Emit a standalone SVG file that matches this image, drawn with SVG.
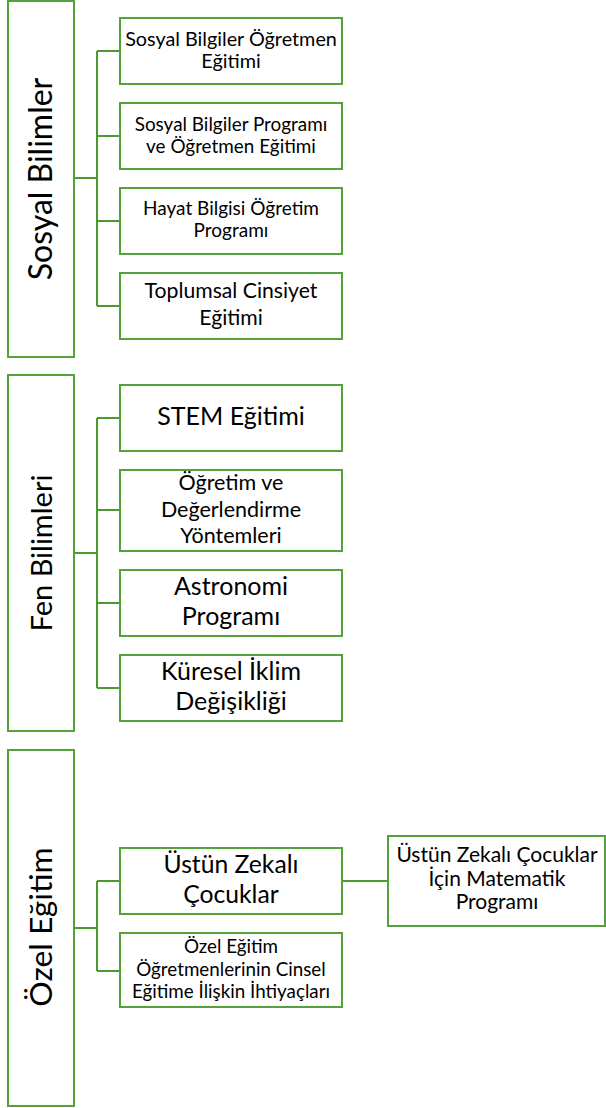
<svg xmlns="http://www.w3.org/2000/svg" width="606" height="1108" viewBox="0 0 606 1108">
<style>
.box{fill:#ffffff;stroke:#56a23a;stroke-width:2}
.conn{fill:none;stroke:#4a9a2e;stroke-width:2}
text{font-family:Lato,"Open Sans","Liberation Sans",sans-serif;fill:#000000;text-anchor:middle}
</style>
<rect width="606" height="1108" fill="#ffffff"/>
<g id="connectors">
<path class="conn" d="M75 178H97M97 51V306M97 51H119M97 136H119M97 221H119M97 306H119"/>
<path class="conn" d="M75 553H97M97 418V688M97 418H119M97 510H119M97 603H119M97 688H119"/>
<path class="conn" d="M75 928H97M97 881V971M97 881H119M97 971H119M343 881H387"/>
</g>
<g id="sosyal-bilimler">
<rect class="box" x="8" y="1" width="66" height="356"/>
<text transform="translate(52,179) rotate(-90)" font-size="32">Sosyal Bilimler</text>
</g>
<g id="sb-ogretmen">
<rect class="box" x="120" y="18" width="222" height="66"/>
<text x="231" y="46" font-size="19.8">Sosyal Bilgiler Öğretmen</text>
<text x="231" y="68" font-size="19.8">Eğitimi</text>
</g>
<g id="sb-program">
<rect class="box" x="120" y="103" width="222" height="66"/>
<text x="231" y="131" font-size="18.9">Sosyal Bilgiler Programı</text>
<text x="231" y="153" font-size="18.9">ve Öğretmen Eğitimi</text>
</g>
<g id="hayat-bilgisi">
<rect class="box" x="120" y="188" width="222" height="66"/>
<text x="231" y="215" font-size="19">Hayat Bilgisi Öğretim</text>
<text x="231" y="237" font-size="19">Programı</text>
</g>
<g id="toplumsal-cinsiyet">
<rect class="box" x="120" y="273" width="222" height="66"/>
<text x="231" y="298" font-size="21.2">Toplumsal Cinsiyet</text>
<text x="231" y="325" font-size="21.2">Eğitimi</text>
</g>
<g id="fen-bilimleri">
<rect class="box" x="8" y="375" width="66" height="356"/>
<text transform="translate(52,553) rotate(-90)" font-size="29">Fen Bilimleri</text>
</g>
<g id="stem">
<rect class="box" x="120" y="385" width="222" height="66"/>
<text x="231" y="425" font-size="25">STEM Eğitimi</text>
</g>
<g id="ogretim-degerlendirme">
<rect class="box" x="120" y="470" width="222" height="81"/>
<text x="231" y="490" font-size="21.5">Öğretim ve</text>
<text x="231" y="517" font-size="21.5">Değerlendirme</text>
<text x="231" y="543" font-size="21.5">Yöntemleri</text>
</g>
<g id="astronomi">
<rect class="box" x="120" y="570" width="222" height="66"/>
<text x="231" y="595" font-size="25">Astronomi</text>
<text x="231" y="625" font-size="25">Programı</text>
</g>
<g id="iklim">
<rect class="box" x="120" y="655" width="222" height="66"/>
<text x="231" y="680" font-size="25">Küresel İklim</text>
<text x="231" y="710" font-size="25">Değişikliği</text>
</g>
<g id="ozel-egitim">
<rect class="box" x="8" y="750" width="66" height="356"/>
<text transform="translate(52,927) rotate(-90)" font-size="31.8">Özel Eğitim</text>
</g>
<g id="ustun-zekali">
<rect class="box" x="120" y="848" width="222" height="66"/>
<text x="231" y="873" font-size="24.7">Üstün Zekalı</text>
<text x="231" y="903" font-size="24.7">Çocuklar</text>
</g>
<g id="cinsel-egitim">
<rect class="box" x="120" y="933" width="222" height="74"/>
<text x="231" y="953" font-size="18.8">Özel Eğitim</text>
<text x="231" y="976" font-size="18.8">Öğretmenlerinin Cinsel</text>
<text x="231" y="998" font-size="18.8">Eğitime İlişkin İhtiyaçları</text>
</g>
<g id="matematik-programi">
<rect class="box" x="388" y="836" width="217" height="90"/>
<text x="497" y="862" font-size="21">Üstün Zekalı Çocuklar</text>
<text x="497" y="886" font-size="21">İçin Matematik</text>
<text x="497" y="909" font-size="21">Programı</text>
</g>
</svg>
